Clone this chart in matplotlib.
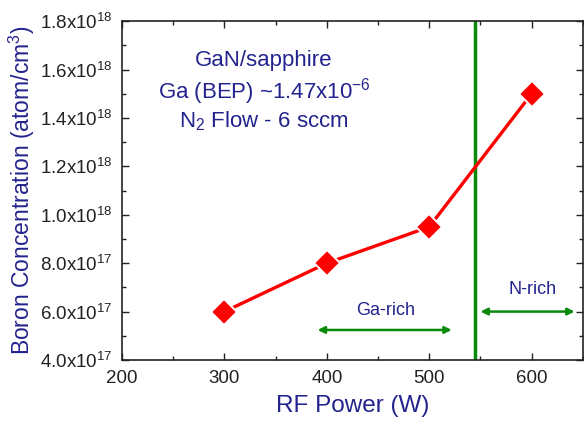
import matplotlib
matplotlib.use("Agg")
import matplotlib.pyplot as plt
from matplotlib.ticker import FixedLocator, MultipleLocator

plt.rcParams['font.family'] = ['Liberation Sans', 'DejaVu Sans']
plt.rcParams['mathtext.fontset'] = 'custom'
plt.rcParams['mathtext.rm'] = 'Liberation Sans'
plt.rcParams['mathtext.it'] = 'Liberation Sans'
plt.rcParams['mathtext.default'] = 'regular'

rf_power = [300, 400, 500, 600]
boron = [6.0e17, 8.0e17, 9.5e17, 1.5e18]
y_ticks = [4e17, 6e17, 8e17, 1.0e18, 1.2e18, 1.4e18, 1.6e18, 1.8e18]
y_tick_labels = [r"4.0x10$^{17}$", r"6.0x10$^{17}$", r"8.0x10$^{17}$",
                 r"1.0x10$^{18}$", r"1.2x10$^{18}$", r"1.4x10$^{18}$",
                 r"1.6x10$^{18}$", r"1.8x10$^{18}$"]
x_ticks = [200, 300, 400, 500, 600]
boundary_power = 545
ga_rich_span = (391, 522)
n_rich_span = (550, 642)

navy = "#23238e"
green = "#0a8a0a"

fig = plt.figure(figsize=(5.84, 4.23), dpi=100)
ax = fig.add_axes([0.209, 0.149, 0.789, 0.801])

ax.plot(rf_power, boron, color="#ff0000", lw=2.4, marker="D", ms=13,
        markerfacecolor="#ff0000", markeredgecolor="white", markeredgewidth=1.4,
        zorder=3)

ax.axvline(boundary_power, color=green, lw=2.5, zorder=2)

ax.annotate("", xy=(ga_rich_span[0], 5.24e17), xytext=(ga_rich_span[1], 5.24e17),
            arrowprops=dict(arrowstyle="<|-|>", color=green, lw=1.8,
                            mutation_scale=10, shrinkA=0, shrinkB=0))
ax.annotate("", xy=(n_rich_span[0], 6.0e17), xytext=(n_rich_span[1], 6.0e17),
            arrowprops=dict(arrowstyle="<|-|>", color=green, lw=1.8,
                            mutation_scale=10, shrinkA=0, shrinkB=0))
ax.text(457, 6.05e17, "Ga-rich", color=navy, fontsize=13, ha="center", va="center")
ax.text(601, 6.9e17, "N-rich", color=navy, fontsize=13, ha="center", va="center")

ax.text(0.308, 0.885, "GaN/sapphire", transform=ax.transAxes, color=navy,
        fontsize=16, ha="center", va="center")
ax.text(0.308, 0.792, r"Ga (BEP) ~1.47x10$^{-6}$", transform=ax.transAxes, color=navy,
        fontsize=16, ha="center", va="center")
ax.text(0.308, 0.705, r"N$_{2}$ Flow - 6 sccm", transform=ax.transAxes, color=navy,
        fontsize=16, ha="center", va="center")

ax.set_xlim(200, 650)
ax.set_ylim(4e17, 1.8e18)
ax.xaxis.set_major_locator(FixedLocator(x_ticks))
ax.xaxis.set_minor_locator(MultipleLocator(50))
ax.yaxis.set_major_locator(FixedLocator(y_ticks))
ax.set_yticklabels(y_tick_labels)
ax.yaxis.set_minor_locator(MultipleLocator(1e17))
ax.tick_params(which="both", direction="in", top=True, right=True,
               labelsize=13.5, colors="#222222", pad=7)
ax.tick_params(which="major", length=5, width=1)
ax.tick_params(which="minor", length=3, width=1)
for s in ax.spines.values():
    s.set_linewidth(1.2)
    s.set_color("#222222")

ax.set_xlabel("RF Power (W)", color=navy, fontsize=17.5, labelpad=6)
ax.set_ylabel(r"Boron Concentration (atom/cm$^{3}$)", color=navy, fontsize=16.5, labelpad=2)

fig.savefig("out.png", dpi=100)
